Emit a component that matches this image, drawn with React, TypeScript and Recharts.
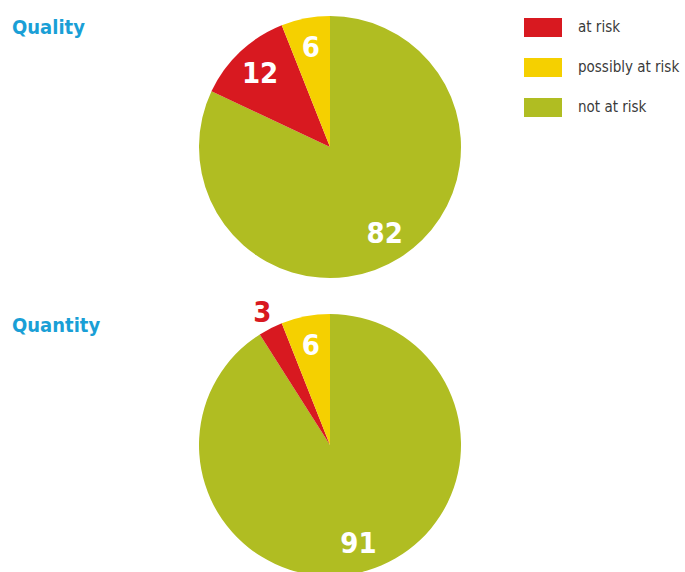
import React from 'react';
import { PieChart, Pie, Cell, Legend } from 'recharts';

const categories = ['not at risk', 'at risk', 'possibly at risk'];
const qualityValues = [82, 12, 6];
const quantityValues = [91, 3, 6];
const legendOrder = ['at risk', 'possibly at risk', 'not at risk'];

const colors: Record<string, string> = {
  'at risk': '#d81920',
  'possibly at risk': '#f5d000',
  'not at risk': '#b0bd22',
};

const font = '"Liberation Sans Narrow", "DejaVu Sans Condensed", "Roboto", sans-serif';
const RAD = Math.PI / 180;

const qualityData = categories.map((name, i) => ({ name, value: qualityValues[i] }));
const quantityData = categories.map((name, i) => ({ name, value: quantityValues[i] }));

const renderLabel = (props: any) => {
  const { cx, cy, midAngle, outerRadius, value, name, percent } = props;
  const small = percent < 0.05;
  const r = small ? outerRadius + 18 : outerRadius * 0.78;
  const x = cx + r * Math.cos(-midAngle * RAD);
  const y = cy + r * Math.sin(-midAngle * RAD);
  return (
    <text
      x={x}
      y={y}
      fill={small ? colors[name] : '#ffffff'}
      textAnchor="middle"
      dominantBaseline="central"
      style={{ fontFamily: font, fontWeight: 'bold', fontSize: 29 }}
    >
      {value}
    </text>
  );
};

const renderLegend = () => (
  <div>
    {legendOrder.map((name) => (
      <div key={name} style={{ display: 'flex', alignItems: 'center', height: 40 }}>
        <div style={{ width: 38, height: 19, background: colors[name] }} />
        <span style={{ marginLeft: 16, fontFamily: font, fontSize: 15, color: '#3a3a3a', whiteSpace: 'nowrap' }}>
          {name}
        </span>
      </div>
    ))}
  </div>
);

const titleStyle: React.CSSProperties = {
  position: 'absolute',
  left: 12,
  fontFamily: font,
  fontWeight: 'bold',
  fontSize: 20,
  color: '#1a9fd6',
  lineHeight: '24px',
};

export default function App() {
  return (
    <div style={{ position: 'absolute', top: 0, left: 0, width: 685, height: 572, overflow: 'hidden', background: '#fff' }}>
      <div style={{ ...titleStyle, top: 15 }}>Quality</div>
      <div style={{ ...titleStyle, top: 313 }}>Quantity</div>
      <PieChart width={685} height={572} margin={{ top: 0, right: 0, bottom: 0, left: 0 }}>
        <Pie
          data={qualityData}
          dataKey="value"
          nameKey="name"
          cx={330}
          cy={147}
          outerRadius={131}
          startAngle={90}
          endAngle={-270}
          stroke="none"
          label={renderLabel}
          labelLine={false}
          isAnimationActive={false}
        >
          {qualityData.map((d) => (
            <Cell key={d.name} fill={colors[d.name]} />
          ))}
        </Pie>
        <Pie
          data={quantityData}
          dataKey="value"
          nameKey="name"
          cx={330}
          cy={445}
          outerRadius={131}
          startAngle={90}
          endAngle={-270}
          stroke="none"
          label={renderLabel}
          labelLine={false}
          isAnimationActive={false}
        >
          {quantityData.map((d) => (
            <Cell key={d.name} fill={colors[d.name]} />
          ))}
        </Pie>
        <Legend
          content={renderLegend}
          layout="vertical"
          verticalAlign="top"
          align="right"
          wrapperStyle={{ position: 'absolute', top: 7, left: 524, width: 160 }}
        />
      </PieChart>
    </div>
  );
}
